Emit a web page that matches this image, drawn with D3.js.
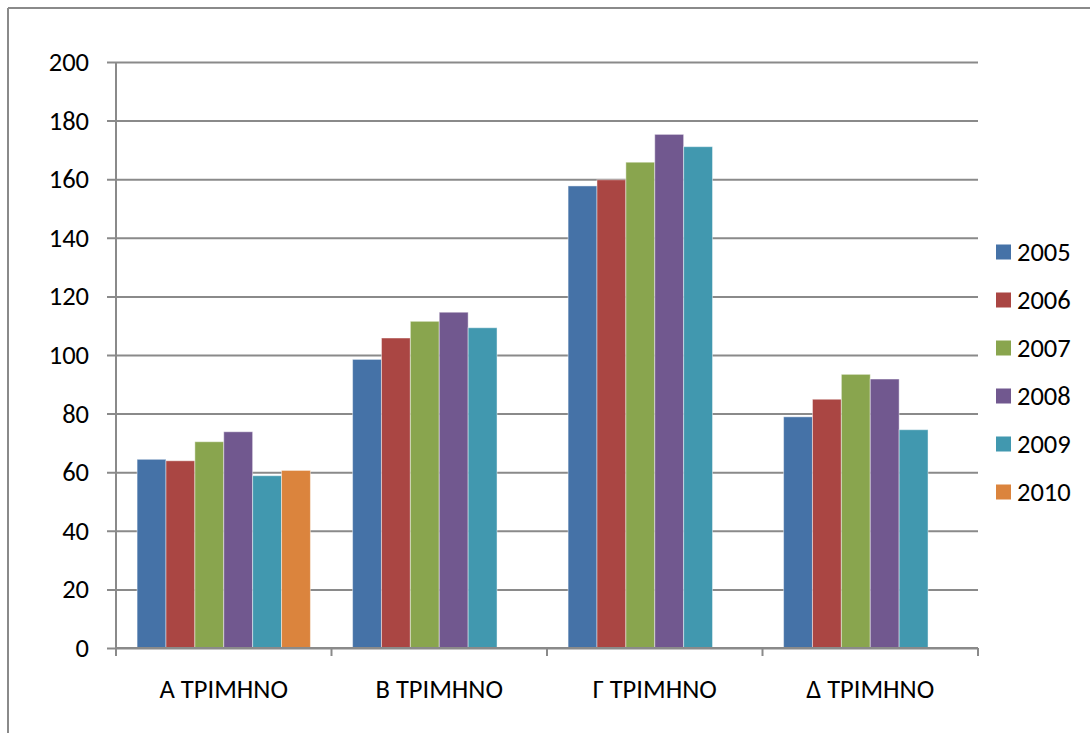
<!DOCTYPE html>
<html>
<head>
<meta charset="utf-8">
<script src="https://cdn.jsdelivr.net/npm/d3@7"></script>
<style>
  html, body { margin: 0; padding: 0; background: #fff; }
  svg { display: block; }
  text { font-family: Carlito, Calibri, "Open Sans", sans-serif; fill: #000; }
</style>
</head>
<body>
<svg id="chart" width="1090" height="733"></svg>
<script>
// Quarterly values per year
const quarters = ["Α ΤΡΙΜΗΝΟ", "Β ΤΡΙΜΗΝΟ", "Γ ΤΡΙΜΗΝΟ", "Δ ΤΡΙΜΗΝΟ"];
const years = ["2005", "2006", "2007", "2008", "2009", "2010"];
const v2005 = [64.4, 98.5, 157.7, 78.9];
const v2006 = [63.9, 105.8, 159.8, 84.9];
const v2007 = [70.4, 111.5, 165.8, 93.4];
const v2008 = [73.8, 114.6, 175.3, 91.8];
const v2009 = [58.8, 109.3, 171.1, 74.5];
const v2010 = [60.6, null, null, null];
const yTicks = [0, 20, 40, 60, 80, 100, 120, 140, 160, 180, 200];
const colors = ["#4572A7", "#AA4643", "#89A54E", "#71588F", "#4198AF", "#DB843D"];

const seriesValues = [v2005, v2006, v2007, v2008, v2009, v2010];

const svg = d3.select("#chart");
const plot = { left: 116, right: 978, top: 62, bottom: 648 };
const gridColor = "#8a8a8a";
const fontSize = "26.5px";

// Outer frame (top and left edges)
svg.append("line").attr("x1", 8).attr("x2", 1090).attr("y1", 8).attr("y2", 8)
  .attr("stroke", gridColor).attr("stroke-width", 2);
svg.append("line").attr("x1", 8).attr("x2", 8).attr("y1", 8).attr("y2", 733)
  .attr("stroke", gridColor).attr("stroke-width", 2);

const y = d3.scaleLinear().domain([0, 200]).range([plot.bottom, plot.top]);
const x0 = d3.scaleBand().domain(quarters).range([plot.left, plot.right]).paddingInner(0).paddingOuter(0);
const x1 = d3.scaleBand().domain(years).range([0, x0.bandwidth()]).paddingInner(0).paddingOuter(0.73);

// Horizontal gridlines with left tick marks and labels
const yAxis = d3.axisLeft(y).tickValues(yTicks)
  .tickSize(-(plot.right - plot.left) - 9)
  .tickFormat(d3.format("d"));
const gy = svg.append("g").attr("transform", `translate(${plot.right},0)`).call(yAxis);
gy.select(".domain").remove();
gy.selectAll(".tick line").attr("stroke", gridColor).attr("stroke-width", 2)
  .attr("x1", -(plot.right - plot.left) - 9).attr("x2", 0);
gy.selectAll(".tick text")
  .attr("x", -(plot.right - plot.left) - 27)
  .style("font-size", fontSize)
  .attr("fill", "#000");

// Bars
const groups = svg.append("g").selectAll("g")
  .data(quarters)
  .join("g")
  .attr("transform", d => `translate(${x0(d)},0)`);

groups.selectAll("rect")
  .data((q, qi) => years.map((yr, si) => ({ yr, si, v: seriesValues[si][qi] })).filter(d => d.v != null))
  .join("rect")
  .attr("x", d => x1(d.yr))
  .attr("width", x1.bandwidth())
  .attr("y", d => y(d.v))
  .attr("height", d => y(0) - y(d.v))
  .attr("fill", d => colors[d.si])
  .attr("stroke", "rgba(255,255,255,0.45)")
  .attr("stroke-width", 1);

// Y axis line
svg.append("line").attr("x1", plot.left).attr("x2", plot.left)
  .attr("y1", plot.top).attr("y2", plot.bottom)
  .attr("stroke", gridColor).attr("stroke-width", 2);

// X axis with category boundary ticks
const xAxis = d3.axisBottom(x0).tickSize(0).tickPadding(31);
const gx = svg.append("g").attr("transform", `translate(0,${plot.bottom})`).call(xAxis);
gx.select(".domain").attr("stroke", gridColor).attr("stroke-width", 2)
  .attr("d", `M${plot.left},0H${plot.right}`);
gx.selectAll(".tick text").style("font-size", fontSize).attr("fill", "#000");
const boundaries = quarters.map(q => x0(q)).concat([x0(quarters[quarters.length - 1]) + x0.bandwidth()]);
gx.selectAll(".bound").data(boundaries).join("line")
  .attr("class", "bound")
  .attr("x1", d => d).attr("x2", d => d)
  .attr("y1", 0).attr("y2", 8)
  .attr("stroke", gridColor).attr("stroke-width", 2);

// Legend
const legend = svg.append("g").attr("transform", "translate(996,252)");
const li = legend.selectAll("g").data(years).join("g")
  .attr("transform", (d, i) => `translate(0,${i * 48})`);
li.append("rect").attr("x", 0).attr("y", -7.5).attr("width", 15).attr("height", 15)
  .attr("fill", (d, i) => colors[i]);
li.append("text").attr("x", 21).attr("y", 0).attr("dy", "0.35em")
  .style("font-size", fontSize).text(d => d);
</script>
</body>
</html>
